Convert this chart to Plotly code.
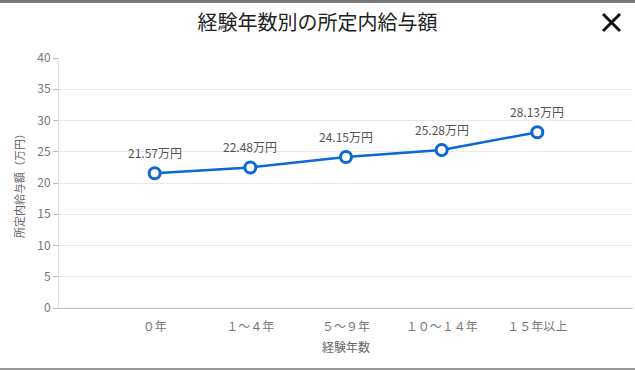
import plotly.graph_objects as go

categories = ["０年", "１～４年", "５～９年", "１０～１４年", "１５年以上"]
values = [21.57, 22.48, 24.15, 25.28, 28.13]
labels = ["21.57万円", "22.48万円", "24.15万円", "25.28万円", "28.13万円"]
y_ticks = [0, 5, 10, 15, 20, 25, 30, 35, 40]

FONT = "Noto Sans CJK JP, Noto Sans, sans-serif"
BLUE = "#0b66d6"

fig = go.Figure()
fig.add_trace(go.Scatter(
    x=list(range(len(categories))), y=values, mode="lines+markers",
    line=dict(color=BLUE, width=2.5),
    marker=dict(size=11, color="white", line=dict(color=BLUE, width=3)),
    hoverinfo="skip", showlegend=False,
))
for i, (v, t) in enumerate(zip(values, labels)):
    fig.add_annotation(x=i, y=v, text=t, showarrow=False, yshift=21,
                       font=dict(size=12, color="#555", family=FONT))

W, H = 635, 370
fig.update_layout(
    width=W, height=H,
    margin=dict(l=59, r=2, t=58, b=62),
    paper_bgcolor="white", plot_bgcolor="white",
    font=dict(family=FONT, color="#666", size=11),
    title=dict(text="経験年数別の所定内給与額", x=0.5, xanchor="center",
               y=1 - 23 / H, yanchor="middle",
               font=dict(size=20, color="#222", family=FONT)),
    xaxis=dict(
        range=[-1, 5], tickmode="array",
        tickvals=list(range(len(categories))), ticktext=categories,
        showgrid=False, zeroline=False, showline=True, linecolor="#bbb", linewidth=1,
        ticks="", ticklabelstandoff=8, tickfont=dict(size=12, color="#777"),
        title=dict(text="経験年数", font=dict(size=12, color="#666"), standoff=10),
        fixedrange=True,
    ),
    yaxis=dict(
        range=[0, 40], tickmode="array", tickvals=y_ticks,
        showgrid=True, gridcolor="#e8e8e8", zeroline=False,
        showline=True, linecolor="#e0e0e0", linewidth=1,
        ticks="outside", ticklen=5, tickcolor="#bbb",
        tickfont=dict(size=12, color="#777"),
        title=dict(text="所定内給与額（万円）", font=dict(size=11, color="#666"), standoff=10),
        fixedrange=True,
    ),
    shapes=[
        # top and bottom grey strips of the surrounding page
        dict(type="rect", xref="paper", yref="paper", x0=-59 / 574, x1=1 + 2 / 574,
             y0=1 + 55 / 250, y1=1 + 58 / 250, fillcolor="#777", line=dict(width=0), layer="above"),
        dict(type="rect", xref="paper", yref="paper", x0=-59 / 574, x1=1 + 2 / 574,
             y0=-62 / 250, y1=-60 / 250, fillcolor="#999", line=dict(width=0), layer="above"),
        # close "X" icon
        dict(type="line", xref="paper", yref="paper",
             x0=(603 - 59) / 574, x1=(620 - 59) / 574,
             y0=(308 - 14) / 250, y1=(308 - 31) / 250, line=dict(color="#111", width=3)),
        dict(type="line", xref="paper", yref="paper",
             x0=(603 - 59) / 574, x1=(620 - 59) / 574,
             y0=(308 - 31) / 250, y1=(308 - 14) / 250, line=dict(color="#111", width=3)),
    ],
)

fig.write_html("out.html", config={"displayModeBar": False},
               post_script="document.body.style.margin='0';document.body.style.overflow='hidden';")
